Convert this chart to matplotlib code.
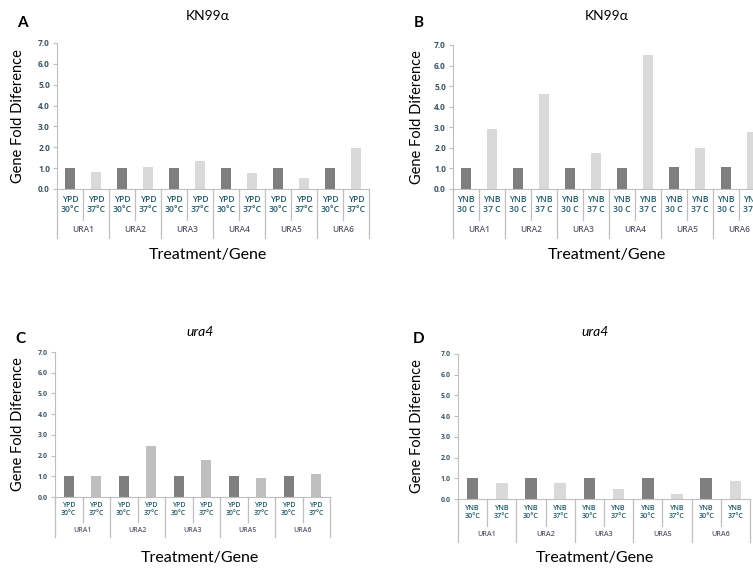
from matplotlib import pyplot as plt
import numpy as np

plt.rcParams['font.family'] = ['Lato', 'DejaVu Sans']

# data
genes_ab = ['URA1', 'URA2', 'URA3', 'URA4', 'URA5', 'URA6']
genes_cd = ['URA1', 'URA2', 'URA3', 'URA5', 'URA6']

a_30 = [1.0, 1.0, 1.0, 1.0, 1.0, 1.0]
a_37 = [0.80, 1.05, 1.35, 0.76, 0.55, 1.96]

b_30 = [1.0, 1.0, 1.0, 1.0, 1.05, 1.05]
b_37 = [2.90, 4.62, 1.77, 6.52, 1.99, 2.75]

c_30 = [1.0, 1.0, 1.0, 1.0, 1.0]
c_37 = [1.02, 2.48, 1.77, 0.94, 1.13]

d_30 = [1.0, 1.0, 1.0, 1.0, 1.0]
d_37 = [0.77, 0.76, 0.47, 0.25, 0.85]

cond_a = ['YPD\n30\u00b0C', 'YPD\n37\u00b0C']
cond_b = ['YNB\n30 C', 'YNB\n37 C']
cond_c = ['YPD\n30\u00b0C', 'YPD\n37\u00b0C']
cond_d = ['YNB\n30\u00b0C', 'YNB\n37\u00b0C']

W, H = 753, 570
fig = plt.figure(figsize=(W / 100, H / 100), dpi=100)

DARK = '#7f7f7f'
GRID = '#bfbfbf'
TICKC = '#3d5566'
CATC = '#1f5a6a'
GRPC = '#5e5a70'
SMALL = ['Open Sans', 'DejaVu Sans']


def panel(x0, x1, ytop, ybot, genes, v30, v37, conds, light, tsize, csize, gsize,
          row1, row2, title, letter, letter_xy, title_xy, ylab_x, xlab_y, italic=False,
          barw=0.4):
    ax = fig.add_axes([x0 / W, 1 - ybot / H, (x1 - x0) / W, (ybot - ytop) / H])
    h = ybot - ytop
    n = len(genes) * 2
    xs = np.arange(n)
    vals = []
    for a, b in zip(v30, v37):
        vals += [a, b]
    cols = [DARK, light] * len(genes)
    ax.bar(xs, vals, width=barw, color=cols, zorder=2)
    ax.set_xlim(-0.5, n - 0.5)
    ax.set_ylim(0, 7)
    ax.set_yticks(np.arange(0, 8, 1))
    ax.set_yticklabels(['%.1f' % v for v in np.arange(0, 8, 1)])
    ax.tick_params(axis='y', length=3, color=GRID, labelsize=tsize, labelcolor=TICKC, pad=2)
    for lb in ax.get_yticklabels():
        lb.set_fontweight('bold')
        lb.set_family(SMALL)
    ax.set_xticks([])
    for s in ['top', 'right']:
        ax.spines[s].set_visible(False)
    ax.spines['left'].set_color(GRID)
    ax.spines['bottom'].set_color(GRID)
    ax.patch.set_alpha(0)

    tr = ax.get_xaxis_transform()
    f1 = -row1 / h
    f2 = -row2 / h
    # separators of the two-level category axis
    for k in range(n + 1):
        bot = f2 if k % 2 == 0 else f1
        ax.plot([k - 0.5, k - 0.5], [0, bot], color=GRID, lw=0.9, transform=tr, clip_on=False)
    for k in range(n):
        ax.text(k, f1 / 2, conds[k % 2], transform=tr, ha='center', va='center',
                fontsize=csize, color=CATC, linespacing=1.25, family=SMALL,
                fontweight='semibold')
    for g, name in enumerate(genes):
        ax.text(2 * g + 0.5, (f1 + f2) / 2 - 0.005, name, transform=tr, ha='center',
                va='center', fontsize=gsize, color=GRPC, family=SMALL,
                fontweight='semibold')

    fig.text(letter_xy[0] / W, 1 - letter_xy[1] / H, letter, fontsize=11,
             fontweight='bold', ha='center', va='center')
    fig.text(title_xy[0] / W, 1 - title_xy[1] / H, title, fontsize=10,
             ha='center', va='center', style='italic' if italic else 'normal')
    fig.text(ylab_x / W, 1 - (ytop + ybot) / 2 / H, 'Gene Fold Diference', rotation=90,
             fontsize=10.5, ha='center', va='center')
    fig.text(title_xy[0] / W, 1 - xlab_y / H, 'Treatment/Gene', fontsize=11.5,
             ha='center', va='center')
    return ax


panel(57, 369, 43, 189, genes_ab, a_30, a_37, cond_a, '#d9d9d9', 6, 6.2, 6,
      31, 49, 'KN99\u03b1', 'A', (22, 23), (208, 16), 18, 255)
panel(453, 765, 45, 189, genes_ab, b_30, b_37, cond_b, '#d9d9d9', 6, 6.2, 6,
      31, 49, 'KN99\u03b1', 'B', (419, 23), (607, 16), 417, 255)
panel(55, 330, 352, 497, genes_cd, c_30, c_37, cond_c, '#bfbfbf', 5, 5, 5,
      25, 40, 'ura4', 'C', (20, 339), (200, 332), 18, 558, italic=True, barw=0.37)
panel(458, 750, 354, 499, genes_cd, d_30, d_37, cond_d, '#d9d9d9', 5, 5.2, 5.2,
      27, 43, 'ura4', 'D', (419, 339), (595, 332), 417, 558, italic=True, barw=0.4)

fig.savefig('out.png', dpi=100)
